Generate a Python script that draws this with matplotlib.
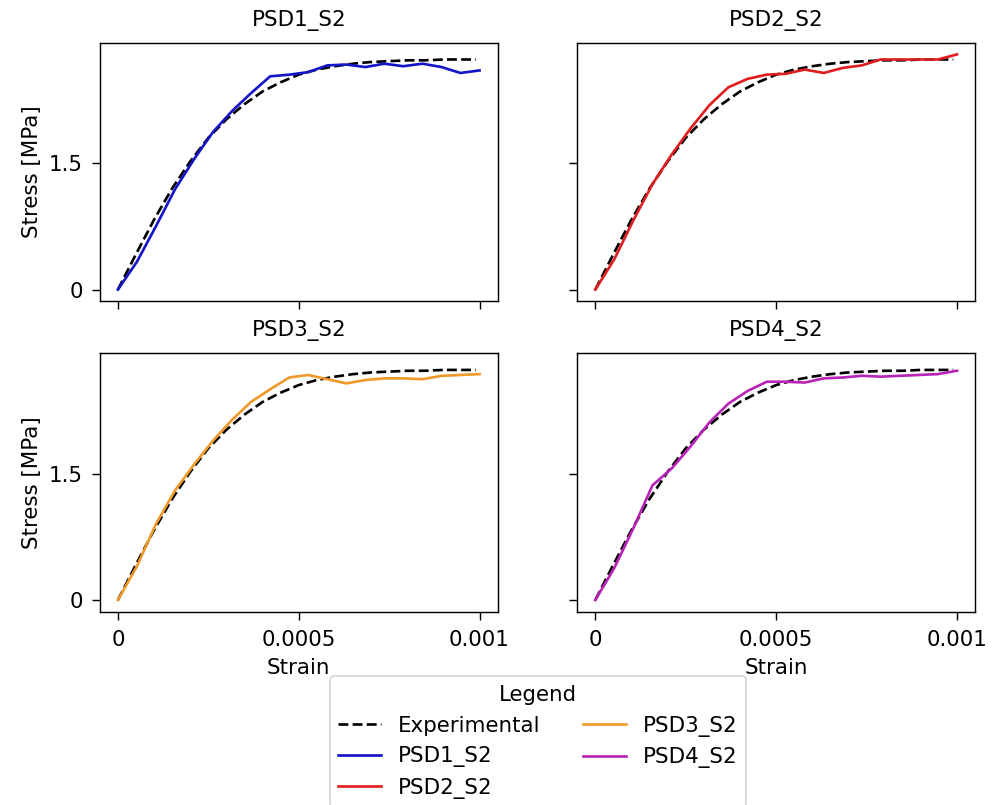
import matplotlib
matplotlib.use("Agg")
import matplotlib.pyplot as plt

plt.rcParams["font.size"] = 12
plt.rcParams["axes.titlesize"] = 12
plt.rcParams["axes.titlepad"] = 9.5
plt.rcParams["legend.fontsize"] = 12
plt.rcParams["legend.title_fontsize"] = 12
plt.rcParams["xtick.major.size"] = 4.5
plt.rcParams["ytick.major.size"] = 4.5
plt.rcParams["xtick.major.pad"] = 6
plt.rcParams["ytick.major.pad"] = 5

# experimental curve (same in every panel)
exp_strain = [0, 0.00005, 0.0001, 0.00015, 0.0002, 0.00025, 0.0003, 0.00035, 0.0004,
              0.00045, 0.0005, 0.00055, 0.0006, 0.00065, 0.0007, 0.00075, 0.0008,
              0.00085, 0.0009, 0.00095, 0.00099]
exp_stress = [0, 0.42, 0.83, 1.2, 1.52, 1.8, 2.02, 2.2, 2.35, 2.46, 2.55, 2.61, 2.65,
              2.68, 2.70, 2.71, 2.72, 2.72, 2.73, 2.73, 2.73]

# simulation strain steps
sim_strain = [0, 0.0000526, 0.000105, 0.000158, 0.000211, 0.000263, 0.000316, 0.000368,
              0.000421, 0.000474, 0.000526, 0.000579, 0.000632, 0.000684, 0.000737,
              0.000789, 0.000842, 0.000895, 0.000947, 0.001]

psd1 = [0, 0.33, 0.75, 1.19, 1.55, 1.87, 2.12, 2.33, 2.53, 2.55, 2.58, 2.66, 2.67,
        2.64, 2.68, 2.65, 2.68, 2.64, 2.57, 2.60]
psd2 = [0, 0.36, 0.82, 1.25, 1.60, 1.91, 2.19, 2.40, 2.50, 2.55, 2.56, 2.61, 2.57,
        2.63, 2.66, 2.73, 2.73, 2.73, 2.73, 2.79]
psd3 = [0, 0.40, 0.90, 1.30, 1.61, 1.89, 2.14, 2.35, 2.50, 2.64, 2.67, 2.62, 2.57,
        2.61, 2.63, 2.63, 2.62, 2.66, 2.67, 2.68]
psd4 = [0, 0.38, 0.85, 1.36, 1.56, 1.82, 2.11, 2.33, 2.48, 2.59, 2.59, 2.58, 2.63,
        2.64, 2.66, 2.65, 2.66, 2.67, 2.68, 2.72]

names = ["PSD1_S2", "PSD2_S2", "PSD3_S2", "PSD4_S2"]
series = [psd1, psd2, psd3, psd4]
colors = ["#1414c8", "#e01e1e", "#ee9a2a", "#b823b8"]

x_ticks = [0, 0.0005, 0.001]
x_labels = ["0", "0.0005", "0.001"]
y_ticks = [0, 1.5]
y_labels = ["0", "1.5"]

fig, axes = plt.subplots(2, 2, figsize=(998 / 128, 805 / 128), dpi=128,
                         sharex=True, sharey=True)
fig.subplots_adjust(left=0.100, right=0.977, top=0.947, bottom=0.240,
                    wspace=0.2, hspace=0.2)

handles = []
for i, ax in enumerate(axes.flat):
    h_exp, = ax.plot(exp_strain, exp_stress, "--", color="black", label="Experimental")
    h, = ax.plot(sim_strain, series[i], "-", color=colors[i], label=names[i])
    ax.set_title(names[i])
    if i == 0:
        handles.append(h_exp)
    handles.append(h)

for ax in axes.flat:
    ax.set_xticks(x_ticks)
    ax.set_xticklabels(x_labels)
    ax.set_yticks(y_ticks)
    ax.set_yticklabels(y_labels)
for ax in axes[:, 0]:
    ax.set_ylabel("Stress [MPa]")
for ax in axes[1, :]:
    ax.set_xlabel("Strain")

fig.legend(handles=handles, labels=[h.get_label() for h in handles],
           title="Legend", ncol=2, loc="upper center", bbox_to_anchor=(0.539, 0.173))

fig.savefig("out.png", dpi=128)
